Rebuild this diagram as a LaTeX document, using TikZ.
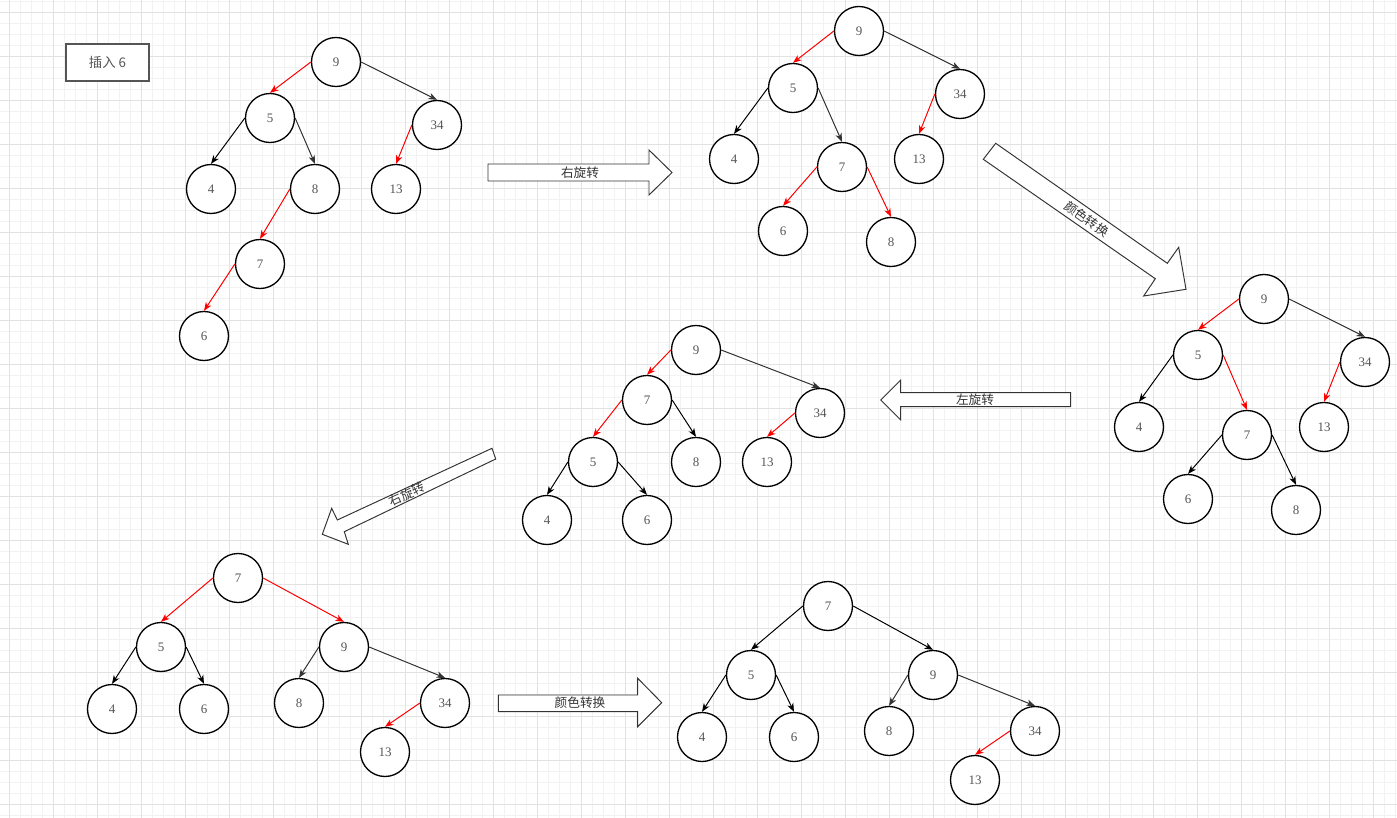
\documentclass[tikz,border=0pt]{standalone}
\usepackage{fontspec}
\setmainfont{Liberation Serif}
\newfontfamily\cjk{Noto Sans CJK SC}
\usetikzlibrary{arrows.meta}

\definecolor{txtgrey}{HTML}{555555}
\definecolor{lnkgrey}{HTML}{333333}
\definecolor{gridlo}{HTML}{F2F2F2}
\definecolor{gridhi}{HTML}{E2E2E2}

\tikzset{
	rbnode/.style={circle,draw=black,line width=0.75pt,fill=white,minimum size=0.98cm,inner sep=0pt,
		text=txtgrey,font=\fontsize{7.4}{9}\selectfont},
	tip/.style={-{Stealth[length=1.7mm,width=1.3mm,inset=0.5mm]}},
	redlink/.style={tip,draw=red,fill=red,line width=0.55pt},
	blklink/.style={tip,draw=black,fill=black,line width=0.55pt},
	grylink/.style={tip,draw=lnkgrey,fill=lnkgrey,line width=0.55pt},
	bigarrow/.style={draw=lnkgrey,fill=white,line width=0.55pt,line join=miter},
	steplabel/.style={text=lnkgrey,font=\cjk\fontsize{7.2}{8.5}\selectfont,inner sep=0pt},
}

\begin{document}
\begin{tikzpicture}[x=0.02cm,y=-0.02cm]
	\useasboundingbox (0,0) rectangle (1397,818);
	\fill[white] (0,0) rectangle (1397,818);
	\begin{scope}
		\clip (0,0) rectangle (1397,818);
		\foreach \gx in {-1.3,9.7,...,1400} \draw[gridlo,line width=0.4pt] (\gx,0) -- (\gx,818);
		\foreach \gy in {1,12,...,820} \draw[gridlo,line width=0.4pt] (0,\gy) -- (1397,\gy);
		\foreach \gx in {9.7,53.7,...,1400} \draw[gridhi,line width=0.4pt] (\gx,0) -- (\gx,818);
		\foreach \gy in {12,56,...,820} \draw[gridhi,line width=0.4pt] (0,\gy) -- (1397,\gy);
	\end{scope}
	%
	\node[draw=txtgrey,line width=0.75pt,fill=white,minimum width=1.66cm,minimum height=0.74cm,
		text=txtgrey,font=\cjk\fontsize{7.6}{9}\selectfont] (title) at (107.5,62.5) {插入 6};
	%
	% insert 6
	\node[rbnode] (a9) at (336,62) {9};
	\node[rbnode] (a5) at (270,118) {5};
	\node[rbnode] (a34) at (437,125) {34};
	\node[rbnode] (a4) at (211,189) {4};
	\node[rbnode] (a8) at (315,189) {8};
	\node[rbnode] (a13) at (396,189) {13};
	\node[rbnode] (a7) at (260,264) {7};
	\node[rbnode] (a6) at (204,336) {6};
	\draw[redlink] (a9.west) -- (a5.north);
	\draw[grylink] (a9.east) -- (a34.north);
	\draw[blklink] (a5.west) -- (a4.north);
	\draw[grylink] (a5.east) -- (a8.north);
	\draw[redlink] (a34.west) -- (a13.north);
	\draw[redlink] (a8.west) -- (a7.north);
	\draw[redlink] (a7.west) -- (a6.north);
	%
	\draw[bigarrow] (488,164) -- (649,164) -- (649,150) -- (672,172.5) -- (649,195) -- (649,181) -- (488,181) -- cycle;
	\node[steplabel] (r1) at (580,172.5) {右旋转};
	%
	% right rotation
	\node[rbnode] (b9) at (859,31) {9};
	\node[rbnode] (b5) at (793,88) {5};
	\node[rbnode] (b34) at (960,94) {34};
	\node[rbnode] (b4) at (734,159) {4};
	\node[rbnode] (b7) at (842,167) {7};
	\node[rbnode] (b13) at (919,159) {13};
	\node[rbnode] (b6) at (783,231) {6};
	\node[rbnode] (b8) at (891,242) {8};
	\draw[redlink] (b9.west) -- (b5.north);
	\draw[grylink] (b9.east) -- (b34.north);
	\draw[blklink] (b5.west) -- (b4.north);
	\draw[grylink] (b5.east) -- (b7.north);
	\draw[redlink] (b34.west) -- (b13.north);
	\draw[redlink] (b7.west) -- (b6.north);
	\draw[redlink] (b7.east) -- (b8.north);
	%
	\draw[bigarrow] (983.3,159.3) -- (995.7,143.3) -- (1167.3,263.3) -- (1178.7,247.3) -- (1186,289.3) -- (1143.7,296) -- (1155.3,278.7) -- cycle;
	\node[steplabel,rotate=-35] (c1) at (1086.7,219) {颜色转换};
	%
	% color flip
	\node[rbnode] (c9) at (1264,299) {9};
	\node[rbnode] (c5) at (1198,355) {5};
	\node[rbnode] (c34) at (1365,362) {34};
	\node[rbnode] (c4) at (1139,427) {4};
	\node[rbnode] (c7) at (1247,435) {7};
	\node[rbnode] (c13) at (1324,427) {13};
	\node[rbnode] (c6) at (1188,499) {6};
	\node[rbnode] (c8) at (1296,510) {8};
	\draw[redlink] (c9.west) -- (c5.north);
	\draw[grylink] (c9.east) -- (c34.north);
	\draw[blklink] (c5.west) -- (c4.north);
	\draw[redlink] (c5.east) -- (c7.north);
	\draw[redlink] (c34.west) -- (c13.north);
	\draw[blklink] (c7.west) -- (c6.north);
	\draw[blklink] (c7.east) -- (c8.north);
	%
	\draw[bigarrow] (1070.7,392.7) -- (900.7,392.7) -- (900.7,380) -- (880.7,400) -- (900.7,420) -- (900.7,406.7) -- (1070.7,406.7) -- cycle;
	\node[steplabel] (l1) at (975,399.7) {左旋转};
	%
	% left rotation
	\node[rbnode] (d9) at (696,350) {9};
	\node[rbnode] (d7) at (647,400) {7};
	\node[rbnode] (d34) at (820,413) {34};
	\node[rbnode] (d5) at (593,462) {5};
	\node[rbnode] (d8) at (696,462) {8};
	\node[rbnode] (d13) at (767,462) {13};
	\node[rbnode] (d4) at (547,520) {4};
	\node[rbnode] (d6) at (647,520) {6};
	\draw[redlink] (d9.west) -- (d7.north);
	\draw[grylink] (d9.east) -- (d34.north);
	\draw[redlink] (d7.west) -- (d5.north);
	\draw[blklink] (d7.east) -- (d8.north);
	\draw[redlink] (d34.west) -- (d13.north);
	\draw[blklink] (d5.west) -- (d4.north);
	\draw[blklink] (d5.east) -- (d6.north);
	%
	\draw[bigarrow] (492,448.3) -- (495.7,459) -- (344.3,531.7) -- (348.3,544.3) -- (322.3,534.3) -- (331.7,508.3) -- (337.3,520) -- cycle;
	\node[steplabel,rotate=25] (r2) at (407,494) {右旋转};
	%
	% right rotation
	\node[rbnode] (e7) at (238,578) {7};
	\node[rbnode] (e5) at (161,647) {5};
	\node[rbnode] (e9) at (344,647) {9};
	\node[rbnode] (e4) at (112,709) {4};
	\node[rbnode] (e6) at (204,709) {6};
	\node[rbnode] (e8) at (299,703) {8};
	\node[rbnode] (e34) at (445,703) {34};
	\node[rbnode] (e13) at (385,752) {13};
	\draw[redlink] (e7.west) -- (e5.north);
	\draw[redlink] (e7.east) -- (e9.north);
	\draw[blklink] (e5.west) -- (e4.north);
	\draw[blklink] (e5.east) -- (e6.north);
	\draw[grylink] (e9.west) -- (e8.north);
	\draw[grylink] (e9.east) -- (e34.north);
	\draw[redlink] (e34.west) -- (e13.north);
	%
	\draw[bigarrow] (498.3,695) -- (637.7,695) -- (637.7,678.3) -- (661.7,702.7) -- (637.7,726.7) -- (637.7,711.7) -- (498.3,711.7) -- cycle;
	\node[steplabel] (c2) at (580,702.5) {颜色转换};
	%
	% color flip
	\node[rbnode] (f7) at (828,606) {7};
	\node[rbnode] (f5) at (751,675) {5};
	\node[rbnode] (f9) at (933,675) {9};
	\node[rbnode] (f4) at (702,737) {4};
	\node[rbnode] (f6) at (794,737) {6};
	\node[rbnode] (f8) at (889,731) {8};
	\node[rbnode] (f34) at (1035,731) {34};
	\node[rbnode] (f13) at (975,780) {13};
	\draw[blklink] (f7.west) -- (f5.north);
	\draw[blklink] (f7.east) -- (f9.north);
	\draw[blklink] (f5.west) -- (f4.north);
	\draw[blklink] (f5.east) -- (f6.north);
	\draw[grylink] (f9.west) -- (f8.north);
	\draw[grylink] (f9.east) -- (f34.north);
	\draw[redlink] (f34.west) -- (f13.north);
\end{tikzpicture}
\end{document}
